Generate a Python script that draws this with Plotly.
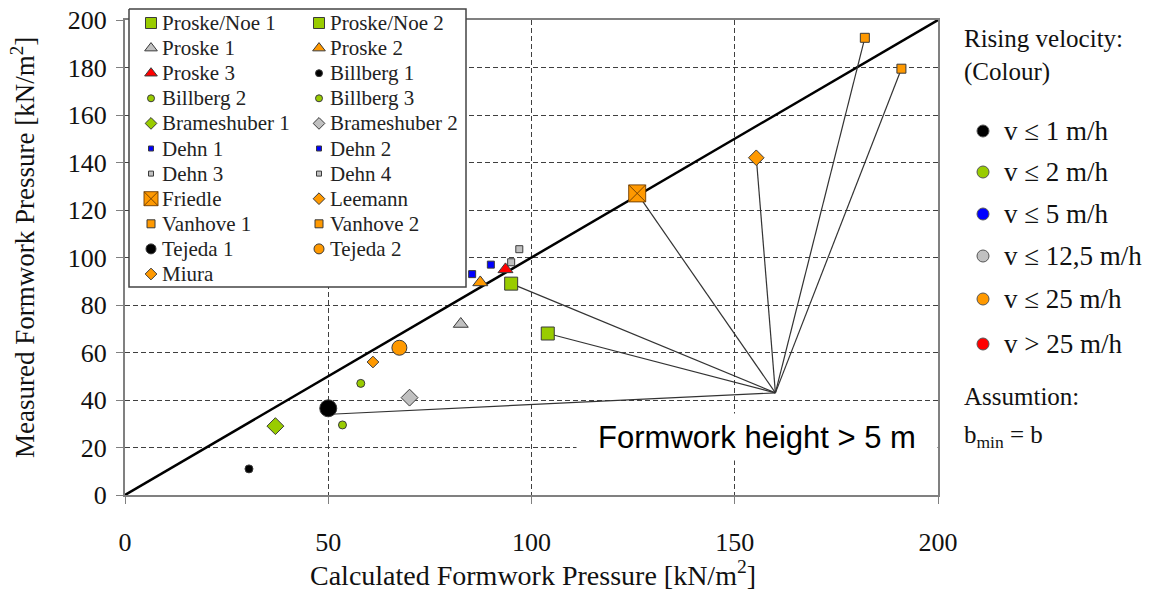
import plotly.graph_objects as go

W, H = 1158, 590

# ---- data -----------------------------------------------------------------
series = ["Proske/Noe 1", "Proske/Noe 2", "Proske 1", "Proske 2", "Proske 3",
          "Billberg 1", "Billberg 2", "Billberg 3", "Brameshuber 1", "Brameshuber 2",
          "Dehn 1", "Dehn 2", "Dehn 3", "Dehn 4", "Friedle", "Leemann",
          "Vanhove 1", "Vanhove 2", "Tejeda 1", "Tejeda 2", "Miura"]
calculated = [95.0, 104.0, 82.6, 87.4, 93.6, 30.5, 58.0, 53.5, 37.0, 70.0,
              85.4, 90.0, 95.0, 97.0, 126.0, 155.3, 182.0, 191.0, 50.0, 67.5, 61.0]
measured = [89.0, 68.0, 72.0, 89.5, 95.0, 11.0, 47.0, 29.5, 29.0, 41.0,
            93.0, 97.0, 98.0, 103.5, 127.0, 142.0, 192.5, 179.5, 36.5, 62.0, 56.0]
velocity = ["v ≤ 2 m/h", "v ≤ 2 m/h", "v ≤ 12,5 m/h", "v ≤ 25 m/h", "v > 25 m/h",
            "v ≤ 1 m/h", "v ≤ 2 m/h", "v ≤ 2 m/h", "v ≤ 2 m/h", "v ≤ 12,5 m/h",
            "v ≤ 5 m/h", "v ≤ 5 m/h", "v ≤ 12,5 m/h", "v ≤ 12,5 m/h", "v ≤ 25 m/h",
            "v ≤ 25 m/h", "v ≤ 25 m/h", "v ≤ 25 m/h", "v ≤ 1 m/h", "v ≤ 25 m/h", "v ≤ 25 m/h"]

velocity_classes = ["v ≤ 1 m/h", "v ≤ 2 m/h", "v ≤ 5 m/h", "v ≤ 12,5 m/h", "v ≤ 25 m/h", "v > 25 m/h"]

# tall formwork cases (> 5 m) linked to a common label point
tall_cases = ["Tejeda 1", "Proske/Noe 2", "Proske/Noe 1", "Friedle", "Leemann", "Vanhove 1", "Vanhove 2"]
tall_link_x = [50.5, 104.0, 95.0, 126.0, 155.3, 182.0, 191.0]
tall_link_y = [34.0, 68.0, 89.0, 127.0, 142.0, 192.5, 179.5]
hub = (160.0, 43.0)

x_ticks = [0, 50, 100, 150, 200]
y_ticks = list(range(0, 201, 20))

x_title = "Calculated Formwork Pressure [kN/m<sup>2</sup>]"
y_title = "Measured Formwork Pressure [kN/m<sup>2</sup>]"
note = "Formwork height > 5 m"

# ---- styles -----------------------------------------------------------------
class_colour = {
    "v ≤ 1 m/h": "#000000",
    "v ≤ 2 m/h": "#99CC00",
    "v ≤ 5 m/h": "#0000FF",
    "v ≤ 12,5 m/h": "#C0C0C0",
    "v ≤ 25 m/h": "#FF9900",
    "v > 25 m/h": "#FF0000",
}
symbols = ["square", "square", "triangle-up", "triangle-up", "triangle-up",
           "circle", "circle", "circle", "diamond", "diamond",
           "square", "square", "square", "square", "square-x", "diamond",
           "square", "square", "circle", "circle", "diamond"]
sizes = [13, 13, 13, 13, 13, 8, 8, 8, 13, 13, 7, 7, 7, 7, 17, 12, 9, 9, 17, 15, 9]
legend_sizes = [11, 11, 11, 11, 11, 7, 7, 7, 9, 9, 5, 5, 5, 5, 14, 9, 8, 8, 10, 10, 9]

SERIF = "Liberation Serif, Times New Roman, Times, serif"
SANS = "Liberation Sans, Arial, sans-serif"
EDGE = "#3a3a3a"
GRID = "#404040"
AXIS = "#808080"

fig = go.Figure()

# reference line: measured = calculated
fig.add_trace(go.Scatter(x=[0, 200], y=[0, 200], mode="lines",
                         line=dict(color="black", width=2.5),
                         hoverinfo="skip", showlegend=False))

# links from the tall-formwork cases to the label point
lx, ly = [], []
for x, y in zip(tall_link_x, tall_link_y):
    lx += [hub[0], x, None]
    ly += [hub[1], y, None]
fig.add_trace(go.Scatter(x=lx, y=ly, mode="lines",
                         line=dict(color="#333333", width=1.2),
                         hoverinfo="skip", showlegend=False))

# measurements
for i, name in enumerate(series):
    col = class_colour[velocity[i]]
    sym = symbols[i]
    line_col = "rgba(110,60,0,0.9)" if sym == "square-x" else EDGE
    fig.add_trace(go.Scatter(
        x=[calculated[i]], y=[measured[i]], mode="markers", name=name,
        marker=dict(symbol=sym, size=sizes[i], color=col,
                    line=dict(color=line_col, width=1)),
        showlegend=False))

# ---- overlay drawing space (figure pixels) for legends and titles ----------
box = dict(x0=129, x1=466, y0=9, y1=287)
fig.add_trace(go.Scatter(
    x=[box["x0"], box["x1"], box["x1"], box["x0"], box["x0"]],
    y=[box["y0"], box["y0"], box["y1"], box["y1"], box["y0"]],
    mode="lines", fill="toself", fillcolor="white",
    line=dict(color="#444444", width=1.5),
    xaxis="x2", yaxis="y2", hoverinfo="skip", showlegend=False))

row0, row_step = 23.0, 25.1
col_marker = [151, 319]
col_text = [160, 328]
annotations = []
for i, name in enumerate(series):
    r, c = divmod(i, 2)
    yy = row0 + r * row_step
    sym = symbols[i]
    col = class_colour[velocity[i]]
    line_col = "rgba(110,60,0,0.9)" if sym == "square-x" else EDGE
    fig.add_trace(go.Scatter(
        x=[col_marker[c]], y=[yy], mode="markers",
        marker=dict(symbol=sym, size=legend_sizes[i], color=col,
                    line=dict(color=line_col, width=1)),
        xaxis="x2", yaxis="y2", hoverinfo="skip", showlegend=False))
    annotations.append(dict(x=col_text[c], y=yy, xref="x2", yref="y2",
                            text=name, showarrow=False, xanchor="left", yanchor="middle",
                            font=dict(family=SERIF, size=21, color="#222")))

# colour key on the right
key_rows = [131, 172, 214, 256, 299, 344]
fig.add_trace(go.Scatter(
    x=[983] * len(velocity_classes), y=key_rows, mode="markers",
    marker=dict(size=12, color=[class_colour[v] for v in velocity_classes],
                line=dict(color="#555", width=1)),
    xaxis="x2", yaxis="y2", hoverinfo="skip", showlegend=False))
for v, yy in zip(velocity_classes, key_rows):
    annotations.append(dict(x=1002, y=yy, xref="x2", yref="y2",
                            text=v, showarrow=False, xanchor="left", yanchor="middle",
                            font=dict(family=SERIF, size=27, color="#111")))
for txt, yy in [("Rising velocity:", 38), ("(Colour)", 72),
                ("Assumtion:", 396), ("b<sub>min</sub> = b", 436)]:
    annotations.append(dict(x=962, y=yy, xref="x2", yref="y2",
                            text=txt, showarrow=False, xanchor="left", yanchor="middle",
                            font=dict(family=SERIF, size=25, color="#111")))

# axis titles and the note inside the plot
annotations.append(dict(x=533, y=573, xref="x2", yref="y2", text=x_title,
                        showarrow=False, xanchor="center", yanchor="middle",
                        font=dict(family=SERIF, size=28, color="#111")))
annotations.append(dict(x=23, y=248, xref="x2", yref="y2", text=y_title,
                        showarrow=False, xanchor="center", yanchor="middle", textangle=-90,
                        font=dict(family=SERIF, size=27, color="#111")))
annotations.append(dict(x=757, y=437, xref="x2", yref="y2",
                        text=note, showarrow=False,
                        xanchor="center", yanchor="middle", width=358, height=44,
                        bgcolor="white",
                        font=dict(family=SANS, size=31, color="black")))

fig.update_layout(
    width=W, height=H,
    margin=dict(l=0, r=0, t=0, b=0, autoexpand=False),
    paper_bgcolor="white", plot_bgcolor="rgba(0,0,0,0)",
    showlegend=False,
    annotations=annotations,
    xaxis=dict(domain=[125 / W, 938 / W], anchor="y", range=[0, 200],
               tickvals=x_ticks, ticks="outside", ticklen=7, tickcolor=AXIS,
               ticklabelstandoff=16, automargin=False,
               showline=True, linecolor=AXIS, linewidth=2, mirror=True,
               showgrid=True, gridcolor=GRID, gridwidth=1, griddash="5px,3px",
               zeroline=False,
               tickfont=dict(family=SERIF, size=26, color="#111")),
    yaxis=dict(domain=[1 - 495 / H, 1 - 20 / H], anchor="x", range=[0, 200],
               tickvals=y_ticks, ticks="outside", ticklen=7, tickcolor=AXIS,
               ticklabelstandoff=4, automargin=False,
               showline=True, linecolor=AXIS, linewidth=2, mirror=True,
               showgrid=True, gridcolor=GRID, gridwidth=1, griddash="5px,3px",
               zeroline=False,
               tickfont=dict(family=SERIF, size=26, color="#111")),
    xaxis2=dict(domain=[0, 1], anchor="y2", range=[0, W], visible=False, fixedrange=True),
    yaxis2=dict(domain=[0, 1], anchor="x2", range=[H, 0], visible=False, fixedrange=True),
)

fig.write_html("out.html")
